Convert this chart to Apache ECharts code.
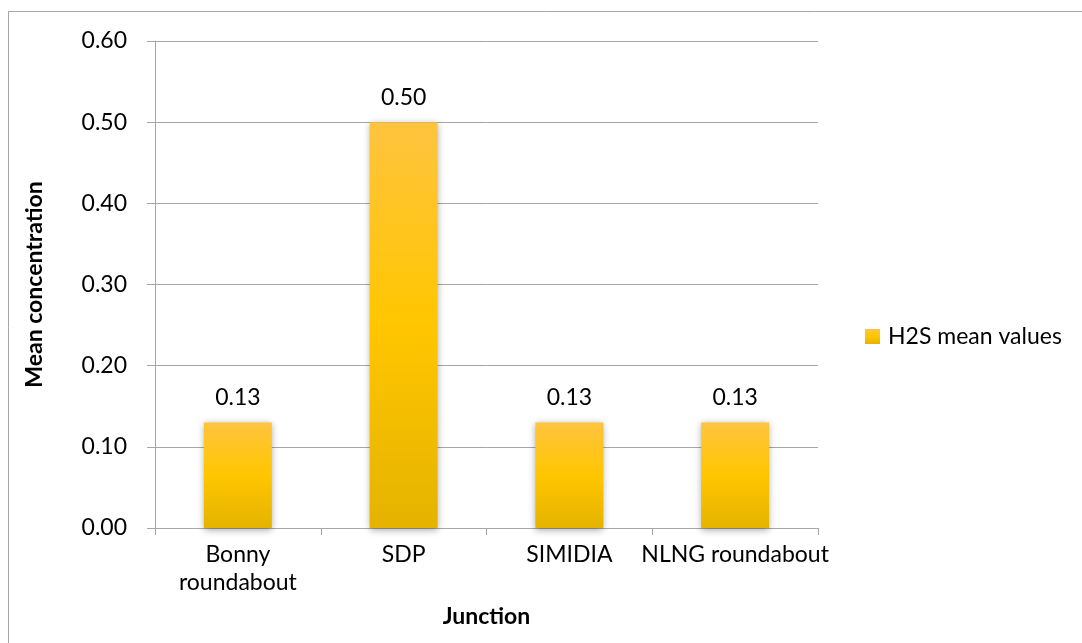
<!DOCTYPE html>
<html>
<head>
<meta charset="utf-8">
<script src="https://cdn.jsdelivr.net/npm/echarts@6/dist/echarts.min.js"></script>
<style>
  html, body { margin: 0; padding: 0; background: #ffffff; }
  #chart { width: 1082px; height: 643px; }
</style>
</head>
<body>
<div id="chart"></div>
<script>
// Junction names along the category axis
const junctions = ['Bonny\nroundabout', 'SDP', 'SIMIDIA', 'NLNG roundabout'];
// Mean H2S concentration at each junction
const h2sMeans = [0.13, 0.50, 0.13, 0.13];
const seriesName = 'H2S mean values';
const yTicks = { min: 0, max: 0.6, step: 0.1 };

const FONT = 'Lato, "Open Sans", sans-serif';
const FS = 23;
const GRID_COLOR = '#a6a6a6';

const chart = echarts.init(document.getElementById('chart'), null, { renderer: 'canvas' });

const barFill = new echarts.graphic.LinearGradient(0, 0, 0, 1, [
  { offset: 0, color: '#ffc43f' },
  { offset: 0.5, color: '#ffc600' },
  { offset: 1, color: '#e5b300' }
]);

chart.setOption({
  backgroundColor: '#ffffff',
  animation: false,
  graphic: [{
    type: 'rect',
    silent: true,
    shape: { x: 8.5, y: 11.5, width: 1100, height: 700 },
    style: { fill: 'none', stroke: '#a6a6a6', lineWidth: 1 }
  }],
  grid: { left: 155, top: 41, right: 264, bottom: 115, containLabel: false },
  legend: {
    show: true,
    left: 860,
    top: 320,
    orient: 'vertical',
    itemWidth: 15,
    itemHeight: 15,
    itemGap: 8,
    icon: 'rect',
    textStyle: { fontFamily: FONT, fontSize: FS, color: '#000000', padding: [0, 0, 0, 3] },
    data: [{ name: seriesName, itemStyle: { color: barFill } }]
  },
  xAxis: {
    type: 'category',
    data: junctions,
    name: 'Junction',
    nameLocation: 'middle',
    nameGap: 77,
    nameTextStyle: { fontFamily: FONT, fontSize: FS, fontWeight: 'bold', color: '#000000' },
    axisLine: { lineStyle: { color: GRID_COLOR, width: 1 } },
    axisTick: { show: true, length: 7, alignWithLabel: false, lineStyle: { color: GRID_COLOR } },
    axisLabel: { fontFamily: FONT, fontSize: FS, color: '#000000', margin: 13, lineHeight: 28, interval: 0 }
  },
  yAxis: {
    type: 'value',
    min: yTicks.min,
    max: yTicks.max,
    interval: yTicks.step,
    name: 'Mean concentration',
    nameLocation: 'middle',
    nameGap: 109,
    nameTextStyle: { fontFamily: FONT, fontSize: FS, fontWeight: 'bold', color: '#000000' },
    axisLine: { show: true, lineStyle: { color: GRID_COLOR, width: 1 } },
    axisTick: { show: true, length: 8, lineStyle: { color: GRID_COLOR } },
    splitLine: { show: true, lineStyle: { color: GRID_COLOR, width: 1 } },
    axisLabel: {
      fontFamily: FONT, fontSize: FS, color: '#000000', margin: 28,
      formatter: v => v.toFixed(2)
    }
  },
  series: [{
    name: seriesName,
    type: 'bar',
    data: h2sMeans,
    barWidth: '41%',
    itemStyle: {
      color: barFill,
      shadowColor: 'rgba(0,0,0,0.35)',
      shadowBlur: 7,
      shadowOffsetX: 0,
      shadowOffsetY: 2
    },
    label: {
      show: true,
      position: 'top',
      distance: 13,
      fontFamily: FONT,
      fontSize: FS,
      color: '#000000',
      formatter: p => p.value.toFixed(2)
    }
  }]
});
</script>
</body>
</html>
